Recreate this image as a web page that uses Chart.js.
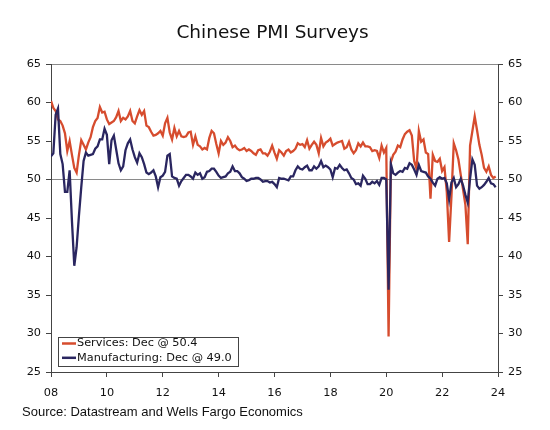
<!DOCTYPE html>
<html>
<head>
<meta charset="utf-8">
<title>Chinese PMI Surveys</title>
<script src="https://cdn.jsdelivr.net/npm/chart.js@4.4.1/dist/chart.umd.min.js"></script>
<style>
  body { margin: 0; background: #fff; }
  #wrap { width: 550px; height: 430px; }
</style>
</head>
<body>
<div id="wrap"><canvas id="pmi"></canvas></div>
<script>
// monthly readings, Jan 2008 .. Dec 2023 (one row per year)
var startYear = 2008;
var yearTicks = ['08', '10', '12', '14', '16', '18', '20', '22', '24'];

var services = [
  60.2, 59.3, 58.9, 57.8, 57.6, 57.0, 56.0, 53.7, 55.0, 53.2, 51.5, 50.9,  // 08
  53.2, 55.1, 54.5, 53.9, 54.8, 55.5, 56.8, 57.6, 58.0, 59.4, 58.7, 58.8,  // 09
  57.8, 57.2, 57.4, 57.6, 58.1, 58.9, 57.6, 58.0, 57.8, 58.2, 58.9, 57.6,  // 10
  57.3, 58.2, 59.0, 58.4, 58.9, 57.0, 56.8, 56.2, 55.7, 55.8, 56.0, 56.3,  // 11
  55.7, 57.3, 58.0, 56.1, 55.2, 56.7, 55.6, 56.3, 55.6, 55.5, 55.6, 56.1,  // 12
  56.2, 54.5, 55.6, 54.5, 54.3, 53.9, 54.1, 53.9, 55.4, 56.3, 56.0, 54.6,  // 13
  53.4, 55.0, 54.5, 54.8, 55.5, 55.0, 54.2, 54.4, 54.0, 53.8, 53.9, 54.1,  // 14
  53.7, 53.9, 53.7, 53.4, 53.2, 53.8, 53.9, 53.4, 53.4, 53.1, 53.6, 54.4,  // 15
  53.5, 52.7, 53.8, 53.5, 53.1, 53.7, 53.9, 53.5, 53.7, 54.0, 54.7, 54.5,  // 16
  54.6, 54.2, 55.1, 54.0, 54.5, 54.9, 54.5, 53.4, 55.4, 54.3, 54.8, 55.0,  // 17
  55.3, 54.4, 54.6, 54.8, 54.9, 55.0, 54.0, 54.2, 54.9, 53.9, 53.4, 53.8,  // 18
  54.7, 54.3, 54.8, 54.3, 54.3, 54.2, 53.7, 53.8, 53.7, 52.8, 54.4, 53.5,  // 19
  54.1, 29.6, 52.3, 53.2, 53.6, 54.4, 54.2, 55.2, 55.9, 56.2, 56.4, 55.7,  // 20
  52.4, 51.4, 56.3, 54.9, 55.2, 53.5, 53.3, 47.5, 53.2, 52.4, 52.3, 52.7,  // 21
  51.1, 51.6, 48.4, 41.9, 47.8, 54.7, 53.8, 52.6, 50.6, 48.7, 46.7, 41.6,  // 22
  54.4, 56.3, 58.2, 56.4, 54.5, 53.2, 51.5, 51.0, 51.7, 50.6, 50.2, 50.4   // 23
];

var manufacturing = [
  53.0, 53.4, 58.4, 59.2, 53.3, 52.0, 48.4, 48.4, 51.2, 44.6, 38.8, 41.2,  // 08
  45.3, 49.0, 52.4, 53.5, 53.1, 53.2, 53.3, 54.0, 54.3, 55.2, 55.2, 56.6,  // 09
  55.8, 52.0, 55.1, 55.7, 53.9, 52.1, 51.2, 51.7, 53.8, 54.7, 55.2, 53.9,  // 10
  52.9, 52.2, 53.4, 52.9, 52.0, 50.9, 50.7, 50.9, 51.2, 50.4, 49.0, 50.3,  // 11
  50.5, 51.0, 53.1, 53.3, 50.4, 50.2, 50.1, 49.2, 49.8, 50.2, 50.6, 50.6,  // 12
  50.4, 50.1, 50.9, 50.6, 50.8, 50.1, 50.3, 51.0, 51.1, 51.4, 51.4, 51.0,  // 13
  50.5, 50.2, 50.3, 50.4, 50.8, 51.0, 51.7, 51.1, 51.1, 50.8, 50.3, 50.1,  // 14
  49.8, 49.9, 50.1, 50.1, 50.2, 50.2, 50.0, 49.7, 49.8, 49.8, 49.6, 49.7,  // 15
  49.4, 49.0, 50.2, 50.1, 50.1, 50.0, 49.9, 50.4, 50.4, 51.2, 51.7, 51.4,  // 16
  51.3, 51.6, 51.8, 51.2, 51.2, 51.7, 51.4, 51.7, 52.4, 51.6, 51.8, 51.6,  // 17
  51.3, 50.3, 51.5, 51.4, 51.9, 51.5, 51.2, 51.3, 50.8, 50.2, 50.0, 49.4,  // 18
  49.5, 49.2, 50.5, 50.1, 49.4, 49.4, 49.7, 49.5, 49.8, 49.3, 50.2, 50.2,  // 19
  50.0, 35.7, 52.0, 50.8, 50.6, 50.9, 51.1, 51.0, 51.5, 51.4, 52.1, 51.9,  // 20
  51.3, 50.6, 51.9, 51.1, 51.0, 50.9, 50.4, 50.1, 49.6, 49.2, 50.1, 50.3,  // 21
  50.1, 50.2, 49.5, 47.4, 49.6, 50.2, 49.0, 49.4, 50.1, 49.2, 48.0, 47.0,  // 22
  50.1, 52.6, 51.9, 49.2, 48.8, 49.0, 49.3, 49.7, 50.2, 49.5, 49.4, 49.0   // 23
];

var redColor = 'rgb(214, 76, 46)';
var navyColor = 'rgb(42, 38, 96)';
var axisColor = '#444';
var tickFont = { family: '"DejaVu Sans", Verdana, sans-serif', size: 11.3 };

// month index -> fractional year on the linear x scale
function toPoints(values) {
  return values.map(function (v, i) {
    return { x: startYear + i / 12, y: v };
  });
}

function gridAt(ctx) {
  var v = ctx.tick && ctx.tick.value;
  return (v === 50 || v === 65) ? '#8a8a8a' : 'rgba(0,0,0,0)';
}

// boxed legend sitting in the lower left of the plot
var insideLegend = {
  id: 'insideLegend',
  afterDraw: function (chart) {
    var ctx = chart.ctx;
    var area = chart.chartArea;
    var x = area.left + 7, y = area.bottom - 35;
    var w = 180, h = 29;
    ctx.save();
    ctx.fillStyle = '#fff';
    ctx.fillRect(x, y, w, h);
    ctx.strokeStyle = axisColor;
    ctx.lineWidth = 1;
    ctx.strokeRect(x + 0.5, y + 0.5, w, h);
    ctx.font = '11.3px "DejaVu Sans", Verdana, sans-serif';
    ctx.textBaseline = 'middle';
    chart.data.datasets.forEach(function (ds, i) {
      var ly = y + 6.5 + i * 14.3;
      ctx.strokeStyle = ds.borderColor;
      ctx.lineWidth = 2.5;
      ctx.beginPath();
      ctx.moveTo(x + 4, ly);
      ctx.lineTo(x + 18, ly);
      ctx.stroke();
      ctx.fillStyle = '#111';
      ctx.fillText(ds.label, x + 19, ly);
    });
    ctx.restore();
  }
};

var last = services.length - 1;

new Chart(document.getElementById('pmi'), {
  type: 'line',
  data: {
    datasets: [{
      label: 'Services: Dec @ ' + services[last].toFixed(1),
      data: toPoints(services),
      borderColor: redColor,
      borderWidth: 2.3,
      pointRadius: 0,
      order: 2,
      yAxisID: 'y'
    }, {
      label: 'Manufacturing: Dec @ ' + manufacturing[last].toFixed(1),
      data: toPoints(manufacturing),
      borderColor: navyColor,
      borderWidth: 2.3,
      pointRadius: 0,
      order: 1,
      yAxisID: 'y'
    }]
  },
  options: {
    responsive: true,
    maintainAspectRatio: false,
    animation: false,
    layout: { padding: { left: 22, right: 27, top: 0, bottom: 0 } },
    plugins: {
      legend: { display: false },
      tooltip: { enabled: false },
      title: {
        display: true,
        text: 'Chinese PMI Surveys',
        color: '#111',
        font: { family: '"DejaVu Sans", Verdana, sans-serif', size: 18.5, weight: 'normal' },
        padding: { top: 22, bottom: 19.8 }
      },
      subtitle: {
        display: true,
        position: 'bottom',
        align: 'start',
        text: 'Source: Datastream and Wells Fargo Economics',
        color: '#111',
        font: { family: '"Liberation Sans", Arial, sans-serif', size: 13 },
        padding: { top: 3, bottom: 9.4 }
      }
    },
    scales: {
      x: {
        type: 'linear',
        min: startYear,
        max: startYear + 16,
        afterFit: function (s) { s.height = 30; },
        afterBuildTicks: function (s) {
          s.ticks = yearTicks.map(function (t, i) { return { value: startYear + i * 2 }; });
        },
        ticks: {
          callback: function (v, i) { return yearTicks[i]; },
          color: '#111',
          font: tickFont,
          padding: 9,
          maxRotation: 0,
          autoSkip: false
        },
        grid: { drawOnChartArea: false, tickLength: 5, tickColor: axisColor },
        border: { color: axisColor, width: 1 }
      },
      y: {
        position: 'left',
        min: 25,
        max: 65,
        afterFit: function (s) { s.width = 29; },
        ticks: { stepSize: 5, color: '#111', font: tickFont, padding: 5 },
        grid: { color: gridAt, tickColor: axisColor, tickLength: 5 },
        border: { color: axisColor, width: 1 }
      },
      y2: {
        position: 'right',
        min: 25,
        max: 65,
        afterFit: function (s) { s.width = 25; },
        ticks: { stepSize: 5, color: '#111', font: tickFont, padding: 5 },
        grid: { drawOnChartArea: false, tickColor: axisColor, tickLength: 5 },
        border: { color: axisColor, width: 1 }
      }
    }
  },
  plugins: [insideLegend]
});
</script>
</body>
</html>
